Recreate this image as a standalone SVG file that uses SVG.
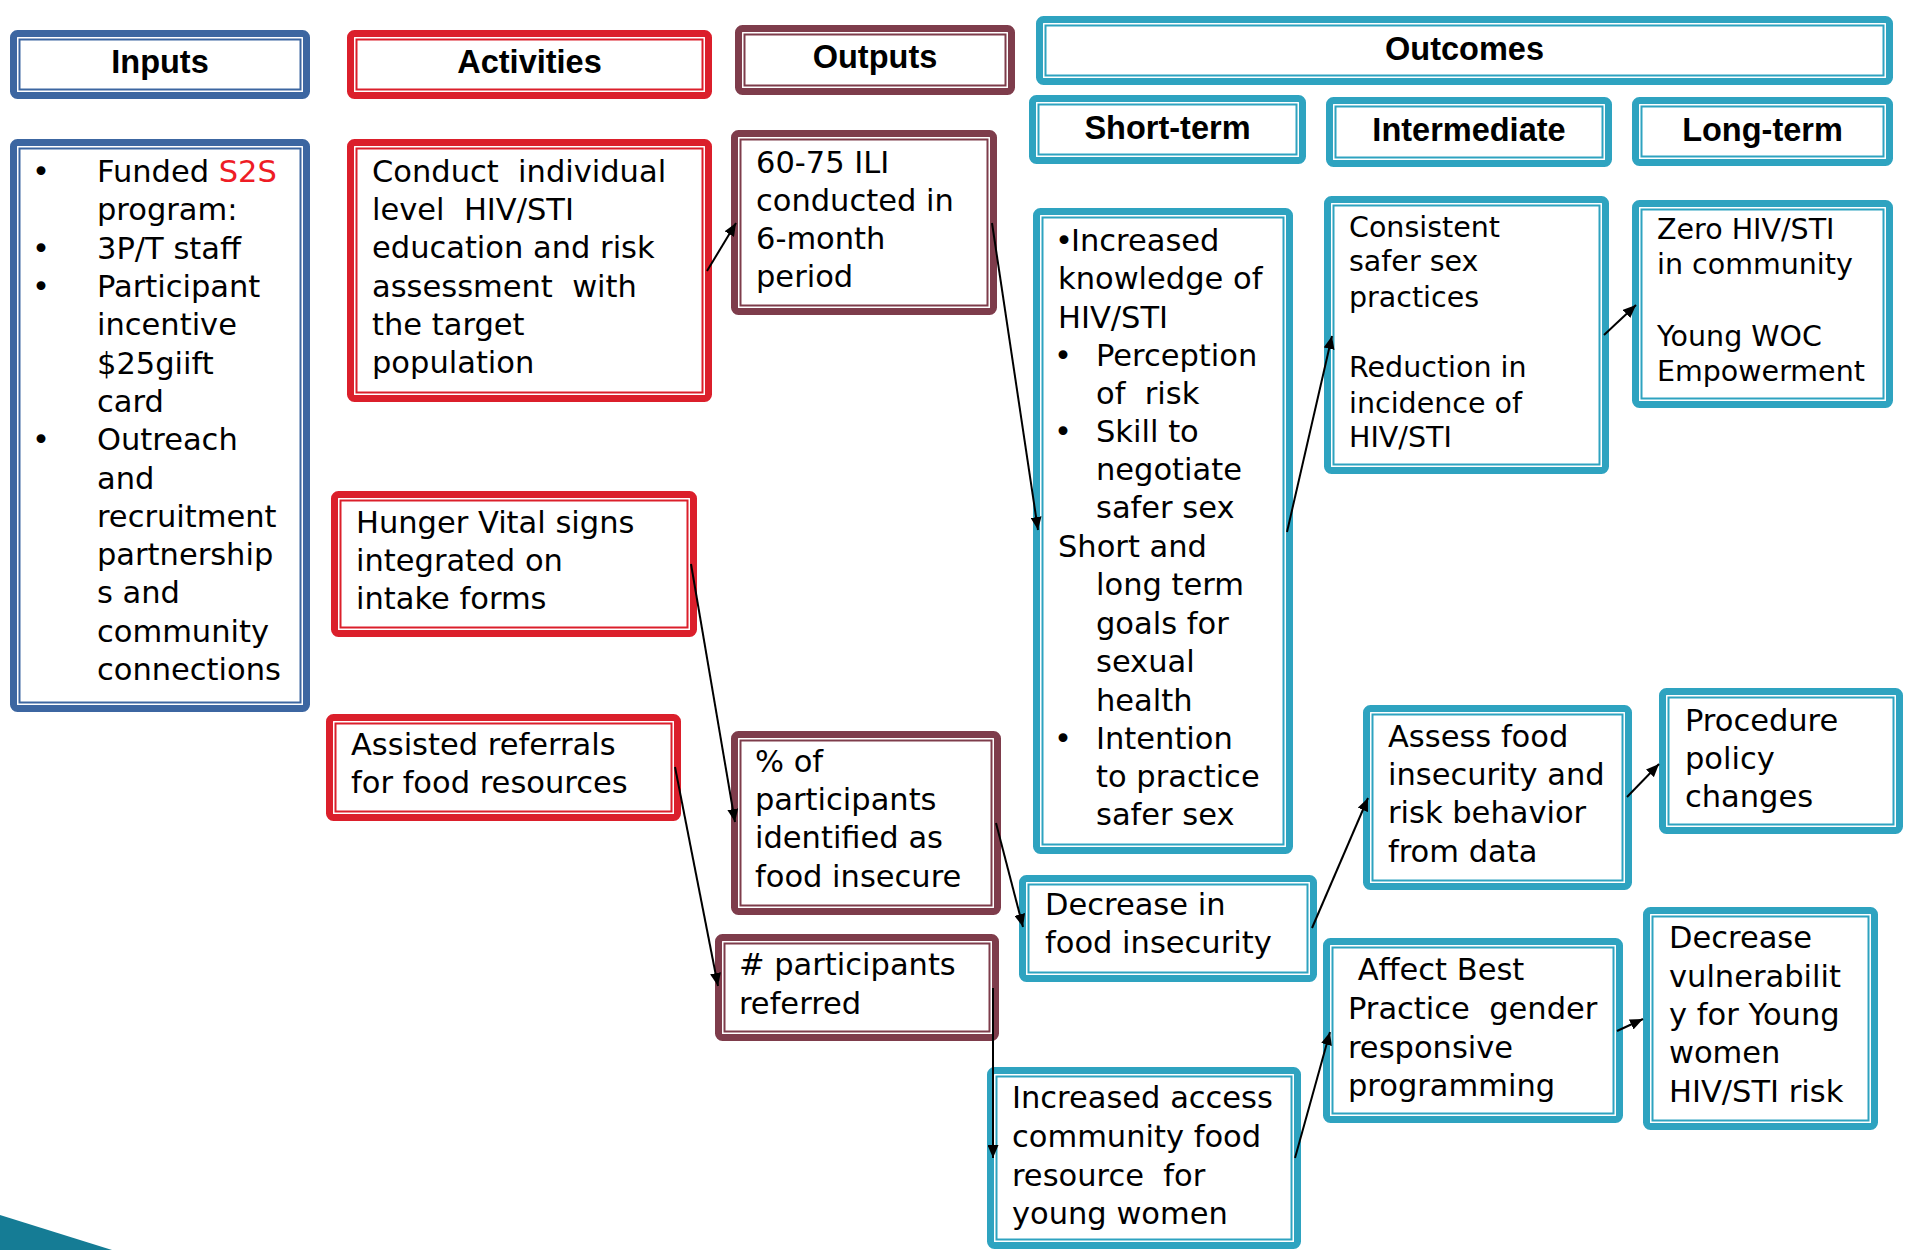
<svg xmlns="http://www.w3.org/2000/svg" width="1905" height="1250" viewBox="0 0 1905 1250">
<defs>
<style>
.ob{fill:#fff;stroke-width:7}
.ib{fill:none;stroke-width:2}
.cb rect{stroke:#3C66A1}
.cr rect{stroke:#DB1F2B}
.cm rect{stroke:#7E3C4B}
.ct rect{stroke:#2EA3C0}
text{font-family:"DejaVu Sans",Verdana,sans-serif;font-size:30.5px;fill:#000;stroke:none;white-space:pre}
.hd{font-family:"Liberation Sans",Arial,sans-serif;font-weight:bold;font-size:32.5px;text-anchor:middle}
.sm{font-size:28.5px}
.conn line{stroke:#000;stroke-width:2;marker-end:url(#ah)}
</style>
<marker id="ah" viewBox="0 0 13 11" refX="13" refY="5.5" markerWidth="13" markerHeight="11" markerUnits="userSpaceOnUse" orient="auto">
<path d="M0,0 L13,5.5 L0,11 z" fill="#000"/>
</marker>
</defs>
<rect width="1905" height="1250" fill="#fff"/>
<polygon points="0,1215 112,1250 0,1250" fill="#157C95"/>

<g id="h-inputs" class="cb"><rect class="ob" x="13.5" y="33.5" width="293" height="62" rx="4"/><rect class="ib" x="19.5" y="39.5" width="281" height="50"/><text class="hd" x="160" y="73">Inputs</text></g>
<g id="h-activities" class="cr"><rect class="ob" x="350.5" y="33.5" width="358" height="62" rx="4"/><rect class="ib" x="356.5" y="39.5" width="346" height="50"/><text class="hd" x="529.5" y="73">Activities</text></g>
<g id="h-outputs" class="cm"><rect class="ob" x="738.5" y="28.5" width="273" height="63" rx="4"/><rect class="ib" x="744.5" y="34.5" width="261" height="51"/><text class="hd" x="875" y="68">Outputs</text></g>
<g id="h-outcomes" class="ct"><rect class="ob" x="1039.5" y="19.5" width="850" height="62" rx="4"/><rect class="ib" x="1045.5" y="25.5" width="838" height="50"/><text class="hd" x="1464.5" y="60">Outcomes</text></g>
<g id="h-short" class="ct"><rect class="ob" x="1032.5" y="98.5" width="270" height="62" rx="4"/><rect class="ib" x="1038.5" y="104.5" width="258" height="50"/><text class="hd" x="1167.5" y="139">Short-term</text></g>
<g id="h-intermediate" class="ct"><rect class="ob" x="1329.5" y="100.5" width="279" height="63" rx="4"/><rect class="ib" x="1335.5" y="106.5" width="267" height="51"/><text class="hd" x="1469" y="141">Intermediate</text></g>
<g id="h-long" class="ct"><rect class="ob" x="1635.5" y="100.5" width="254" height="62" rx="4"/><rect class="ib" x="1641.5" y="106.5" width="242" height="50"/><text class="hd" x="1762.5" y="141">Long-term</text></g>

<g id="inputs" class="cb"><rect class="ob" x="13.5" y="142.5" width="293" height="566" rx="4"/><rect class="ib" x="19.5" y="148.5" width="281" height="554"/>
<text x="32" y="182">•</text><text x="32" y="259">•</text><text x="32" y="297">•</text><text x="32" y="450">•</text>
<text x="97" y="182">Funded <tspan fill="#EE1C25">S2S</tspan></text>
<text x="97" y="220">program:</text>
<text x="97" y="259">3P/T staff</text>
<text x="97" y="297">Participant</text>
<text x="97" y="335">incentive</text>
<text x="97" y="374">$25giift</text>
<text x="97" y="412">card</text>
<text x="97" y="450">Outreach</text>
<text x="97" y="489">and</text>
<text x="97" y="527">recruitment</text>
<text x="97" y="565">partnership</text>
<text x="97" y="603">s and</text>
<text x="97" y="642">community</text>
<text x="97" y="680">connections</text>
</g>

<g id="conduct" class="cr"><rect class="ob" x="350.5" y="142.5" width="358" height="256" rx="4"/><rect class="ib" x="356.5" y="148.5" width="346" height="244"/>
<text x="372" y="182">Conduct  individual</text>
<text x="372" y="220">level  HIV/STI</text>
<text x="372" y="258">education and risk</text>
<text x="372" y="297">assessment  with</text>
<text x="372" y="335">the target</text>
<text x="372" y="373">population</text>
</g>

<g id="hunger" class="cr"><rect class="ob" x="334.5" y="494.5" width="359" height="139" rx="4"/><rect class="ib" x="340.5" y="500.5" width="347" height="127"/>
<text x="356" y="533">Hunger Vital signs</text>
<text x="356" y="571">integrated on</text>
<text x="356" y="609">intake forms</text>
</g>

<g id="assisted" class="cr"><rect class="ob" x="329.5" y="717.5" width="348" height="100" rx="4"/><rect class="ib" x="335.5" y="723.5" width="336" height="88"/>
<text x="351" y="755">Assisted referrals</text>
<text x="351" y="793">for food resources</text>
</g>

<g id="ili" class="cm"><rect class="ob" x="734.5" y="133.5" width="259" height="178" rx="4"/><rect class="ib" x="740.5" y="139.5" width="247" height="166"/>
<text x="756" y="173">60-75 ILI</text>
<text x="756" y="211">conducted in</text>
<text x="756" y="249">6-month</text>
<text x="756" y="287">period</text>
</g>

<g id="pct" class="cm"><rect class="ob" x="734.5" y="734.5" width="263" height="177" rx="4"/><rect class="ib" x="740.5" y="740.5" width="251" height="165"/>
<text x="755" y="772">% of</text>
<text x="755" y="810">participants</text>
<text x="755" y="848">identified as</text>
<text x="755" y="887">food insecure</text>
</g>

<g id="num" class="cm"><rect class="ob" x="718.5" y="937.5" width="277" height="100" rx="4"/><rect class="ib" x="724.5" y="943.5" width="265" height="88"/>
<text x="739" y="975"># participants</text>
<text x="739" y="1014">referred</text>
</g>

<g id="short" class="ct"><rect class="ob" x="1036.5" y="211.5" width="253" height="639" rx="4"/><rect class="ib" x="1042.5" y="217.5" width="241" height="627"/>
<text x="1055" y="251">•<tspan dx="-2">Increased</tspan></text>
<text x="1058" y="289">knowledge of</text>
<text x="1058" y="328">HIV/STI</text>
<text x="1054" y="366">•</text><text x="1096" y="366">Perception</text>
<text x="1096" y="404">of  risk</text>
<text x="1054" y="442">•</text><text x="1096" y="442">Skill to</text>
<text x="1096" y="480">negotiate</text>
<text x="1096" y="518">safer sex</text>
<text x="1058" y="557">Short and</text>
<text x="1096" y="595">long term</text>
<text x="1096" y="634">goals for</text>
<text x="1096" y="672">sexual</text>
<text x="1096" y="711">health</text>
<text x="1054" y="749">•</text><text x="1096" y="749">Intention</text>
<text x="1096" y="787">to practice</text>
<text x="1096" y="825">safer sex</text>
</g>

<g id="consistent" class="ct"><rect class="ob" x="1327.5" y="199.5" width="278" height="271" rx="4"/><rect class="ib" x="1333.5" y="205.5" width="266" height="259"/>
<text class="sm" x="1349" y="237">Consistent</text>
<text class="sm" x="1349" y="271">safer sex</text>
<text class="sm" x="1349" y="307">practices</text>
<text class="sm" x="1349" y="377">Reduction in</text>
<text class="sm" x="1349" y="413">incidence of</text>
<text class="sm" x="1349" y="447">HIV/STI</text>
</g>

<g id="zero" class="ct"><rect class="ob" x="1635.5" y="203.5" width="254" height="201" rx="4"/><rect class="ib" x="1641.5" y="209.5" width="242" height="189"/>
<text class="sm" x="1657" y="239">Zero HIV/STI</text>
<text class="sm" x="1657" y="274">in community</text>
<text class="sm" x="1657" y="346">Young WOC</text>
<text class="sm" x="1657" y="381">Empowerment</text>
</g>

<g id="decrease" class="ct"><rect class="ob" x="1022.5" y="878.5" width="291" height="100" rx="4"/><rect class="ib" x="1028.5" y="884.5" width="279" height="88"/>
<text x="1045" y="915">Decrease in</text>
<text x="1045" y="953">food insecurity</text>
</g>

<g id="increased" class="ct"><rect class="ob" x="990.5" y="1070.5" width="307" height="175" rx="4"/><rect class="ib" x="996.5" y="1076.5" width="295" height="163"/>
<text x="1012" y="1108">Increased access</text>
<text x="1012" y="1147">community food</text>
<text x="1012" y="1186">resource  for</text>
<text x="1012" y="1224">young women</text>
</g>

<g id="assess" class="ct"><rect class="ob" x="1366.5" y="708.5" width="262" height="178" rx="4"/><rect class="ib" x="1372.5" y="714.5" width="250" height="166"/>
<text x="1388" y="747">Assess food</text>
<text x="1388" y="785">insecurity and</text>
<text x="1388" y="823">risk behavior</text>
<text x="1388" y="862">from data</text>
</g>

<g id="procedure" class="ct"><rect class="ob" x="1662.5" y="691.5" width="237" height="139" rx="4"/><rect class="ib" x="1668.5" y="697.5" width="225" height="127"/>
<text x="1685" y="731">Procedure</text>
<text x="1685" y="769">policy</text>
<text x="1685" y="807">changes</text>
</g>

<g id="affect" class="ct"><rect class="ob" x="1326.5" y="941.5" width="293" height="178" rx="4"/><rect class="ib" x="1332.5" y="947.5" width="281" height="166"/>
<text x="1348" y="980"> Affect Best</text>
<text x="1348" y="1019">Practice  gender</text>
<text x="1348" y="1058">responsive</text>
<text x="1348" y="1096">programming</text>
</g>

<g id="vuln" class="ct"><rect class="ob" x="1646.5" y="910.5" width="228" height="216" rx="4"/><rect class="ib" x="1652.5" y="916.5" width="216" height="204"/>
<text x="1669" y="948">Decrease</text>
<text x="1669" y="987">vulnerabilit</text>
<text x="1669" y="1025">y for Young</text>
<text x="1669" y="1063">women</text>
<text x="1669" y="1102">HIV/STI risk</text>
</g>

<g id="connectors" class="conn">
<line x1="707" y1="271" x2="736" y2="223"/>
<line x1="992" y1="223" x2="1038" y2="530"/>
<line x1="1287" y1="532" x2="1332" y2="336"/>
<line x1="1604" y1="335" x2="1636" y2="305"/>
<line x1="691" y1="564" x2="735" y2="822"/>
<line x1="675" y1="767" x2="718" y2="986"/>
<line x1="996" y1="823" x2="1023" y2="927"/>
<line x1="1312" y1="928" x2="1368" y2="798"/>
<line x1="1627" y1="797" x2="1659" y2="764"/>
<line x1="993" y1="988" x2="993" y2="1158"/>
<line x1="1295" y1="1158" x2="1330" y2="1032"/>
<line x1="1617" y1="1031" x2="1643" y2="1019"/>
</g>
</svg>
